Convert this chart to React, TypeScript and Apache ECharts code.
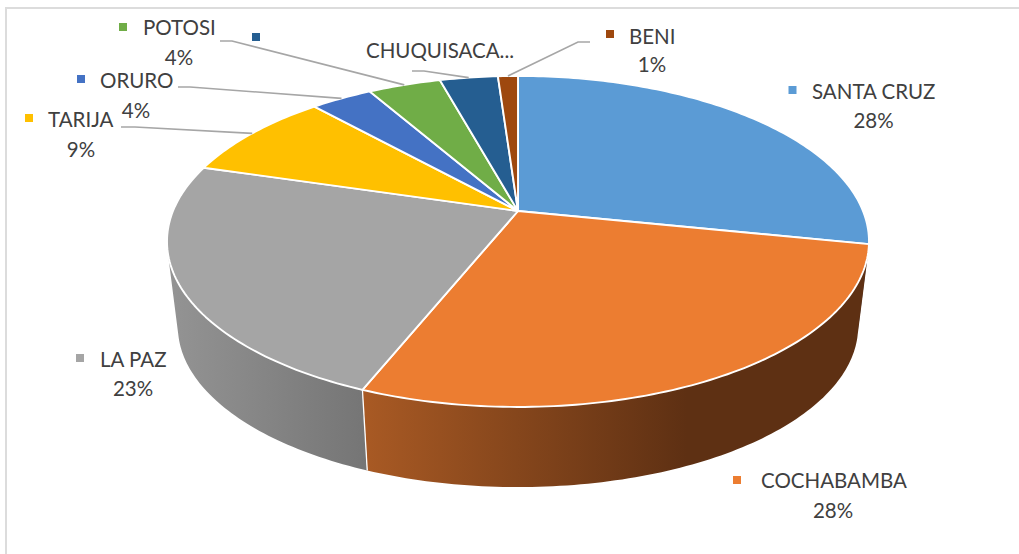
import React, { useEffect, useRef } from "react";
import * as echarts from "echarts";

// ---- data ----
const categories = ["SANTA CRUZ", "COCHABAMBA", "LA PAZ", "TARIJA", "ORURO", "POTOSI", "CHUQUISACA...", "BENI"];
const shares = [28.2, 27.9, 23.5, 8.7, 3.4, 4.0, 3.2, 1.1];
const percentLabels = ["28%", "28%", "23%", "9%", "4%", "4%", "", "1%"];

// ---- styles ----
const faceColors = ["#5B9BD5", "#EC7D31", "#A5A5A5", "#FFC000", "#4472C4", "#70AD47", "#255E91", "#9E480E"];
const wallStops: [number, string][][] = [
  [[0, "#37608a"], [1, "#37608a"]],
  [[0, "#a95a24"], [0.64, "#5e3013"], [1, "#5e3013"]],
  [[0, "#949494"], [1, "#757575"]],
  [[0, "#997300"], [1, "#997300"]],
  [[0, "#294476"], [1, "#294476"]],
  [[0, "#43682b"], [1, "#43682b"]],
  [[0, "#163857"], [1, "#163857"]],
  [[0, "#5f2b08"], [1, "#5f2b08"]],
];

// ---- label layout: key square, name start, percent centre, leader start ----
type Lay = { key: [number, number]; name: [number, number]; pct: [number, number] };
const labelLayout: Lay[] = [
  { key: [792.5, 90], name: [812, 91], pct: [873.5, 119.5] },
  { key: [737, 480], name: [761, 480], pct: [833, 509.5] },
  { key: [80, 358], name: [100, 359], pct: [133, 387.5] },
  { key: [29, 118], name: [48, 119], pct: [81, 148.5] },
  { key: [81, 79], name: [100, 79.5], pct: [136, 109.5] },
  { key: [123, 27], name: [143, 27], pct: [179, 57] },
  { key: [256, 37], name: [366, 50], pct: [440, 70] },
  { key: [610, 34], name: [629, 35.5], pct: [652, 64] },
];
const leaderStarts: ([number, number][] | null)[] = [
  null,
  null,
  null,
  [[121, 127], [135, 127]],
  [[178, 87], [190, 87]],
  [[220, 41], [232, 41]],
  [[412, 71], [424, 71]],
  [[590, 42], [578, 42]],
];

// ---- perspective disc geometry ----
const APEX_X = 518;
const TOP_APEX_Y = 211;
const K = 0.184;
const TOP_C = 345;
const TOP_A = 159.9;
const BOTTOM_SCALE = 0.969;
const BOTTOM_APEX_Y = 297.2;

const total = shares.reduce((a, b) => a + b, 0);
const startAngles: number[] = [];
shares.reduce((acc, v, i) => {
  startAngles[i] = (acc / total) * 360;
  return acc + v;
}, 0);
const endAngle = (i: number) => startAngles[i] + (shares[i] / total) * 360;

const proj = (deg: number, bottom: boolean): [number, number] => {
  const t = (deg * Math.PI) / 180;
  const u = Math.sin(t);
  const v = Math.cos(t);
  const w = 1 + K * v;
  const s = bottom ? BOTTOM_SCALE : 1;
  return [APEX_X + (s * TOP_C * u) / w, (bottom ? BOTTOM_APEX_Y : TOP_APEX_Y) - (s * TOP_A * v) / w];
};

const arcAngles = (a: number, b: number) => {
  const n = Math.max(2, Math.ceil(b - a));
  return Array.from({ length: n + 1 }, (_, j) => a + ((b - a) * j) / n);
};

const wallPath = (a: number, b: number) => {
  const angs = arcAngles(a, b);
  let d = "";
  for (let j = 0; j < angs.length - 1; j++) {
    let q = [proj(angs[j], false), proj(angs[j + 1], false), proj(angs[j + 1], true), proj(angs[j], true)];
    let area = 0;
    q.forEach((p, m) => {
      const r = q[(m + 1) % 4];
      area += p[0] * r[1] - r[0] * p[1];
    });
    if (area < 0) q = q.slice().reverse();
    d += "M" + q.map((p) => p[0].toFixed(2) + " " + p[1].toFixed(2)).join("L") + "Z";
  }
  return d;
};

const FONT = '20.5px Lato, "Noto Sans", sans-serif';
const TEXT = "#404040";
const LEADER = "#A6A6A6";

export default function App() {
  const ref = useRef<HTMLDivElement>(null);
  useEffect(() => {
    const chart = echarts.init(ref.current!, undefined, { renderer: "svg" });
    chart.setOption({
      animation: false,
      backgroundColor: "#fff",
      graphic: [
        { type: "line", z: 0, shape: { x1: 6, y1: 8, x2: 6, y2: 554 }, style: { stroke: "#dcdcdc", lineWidth: 2 } },
        { type: "line", z: 0, shape: { x1: 5, y1: 8, x2: 1019, y2: 8 }, style: { stroke: "#dcdcdc", lineWidth: 2 } },
      ],
      series: [
        {
          type: "custom",
          coordinateSystem: "none",
          z: 2,
          silent: true,
          data: shares,
          renderItem: (params: any) => {
            const i = params.dataIndex;
            const a = startAngles[i];
            const b = endAngle(i);
            const children: any[] = [
              {
                type: "path",
                shape: { pathData: wallPath(a, b) },
                style: {
                  fill: { type: "linear", x: 0, y: 0, x2: 1, y2: 0, colorStops: wallStops[i].map(([offset, color]) => ({ offset, color })) },
                },
              },
            ];
            if (Math.cos((a * Math.PI) / 180) < -0.35) {
              const p = proj(a, false);
              const q = proj(a, true);
              children.push({
                type: "line",
                shape: { x1: p[0], y1: p[1], x2: q[0], y2: q[1] },
                style: { stroke: "#fff", lineWidth: 1.3 },
              });
            }
            return { type: "group", children };
          },
        },
        {
          type: "custom",
          coordinateSystem: "none",
          z: 3,
          silent: true,
          data: shares,
          renderItem: (params: any) => {
            const i = params.dataIndex;
            const pts = [[APEX_X, TOP_APEX_Y], ...arcAngles(startAngles[i], endAngle(i)).map((d) => proj(d, false))];
            return {
              type: "polygon",
              shape: { points: pts },
              style: { fill: faceColors[i], stroke: "#fff", lineWidth: 1.9, lineJoin: "round" },
            };
          },
        },
        {
          type: "custom",
          coordinateSystem: "none",
          z: 4,
          silent: true,
          data: shares,
          renderItem: (params: any) => {
            const i = params.dataIndex;
            const l = labelLayout[i];
            const children: any[] = [
              {
                type: "rect",
                shape: { x: l.key[0] - 4, y: l.key[1] - 4, width: 8, height: 8 },
                style: { fill: faceColors[i] },
              },
              {
                type: "text",
                style: { text: categories[i], x: l.name[0], y: l.name[1], fill: TEXT, font: FONT, align: "left", verticalAlign: "middle" },
              },
            ];
            if (percentLabels[i]) {
              children.push({
                type: "text",
                style: { text: percentLabels[i], x: l.pct[0], y: l.pct[1], fill: TEXT, font: FONT, align: "center", verticalAlign: "middle" },
              });
            }
            const leader = leaderStarts[i];
            if (leader) {
              const end = proj((startAngles[i] + endAngle(i)) / 2, false);
              children.push({
                type: "polyline",
                shape: { points: [...leader, end] },
                style: { stroke: LEADER, lineWidth: 1.6, fill: "none" },
              });
            }
            return { type: "group", children };
          },
        },
      ],
    });
    return () => chart.dispose();
  }, []);
  return <div ref={ref} style={{ position: "absolute", left: 0, top: 0, width: 1019, height: 554 }} />;
}
